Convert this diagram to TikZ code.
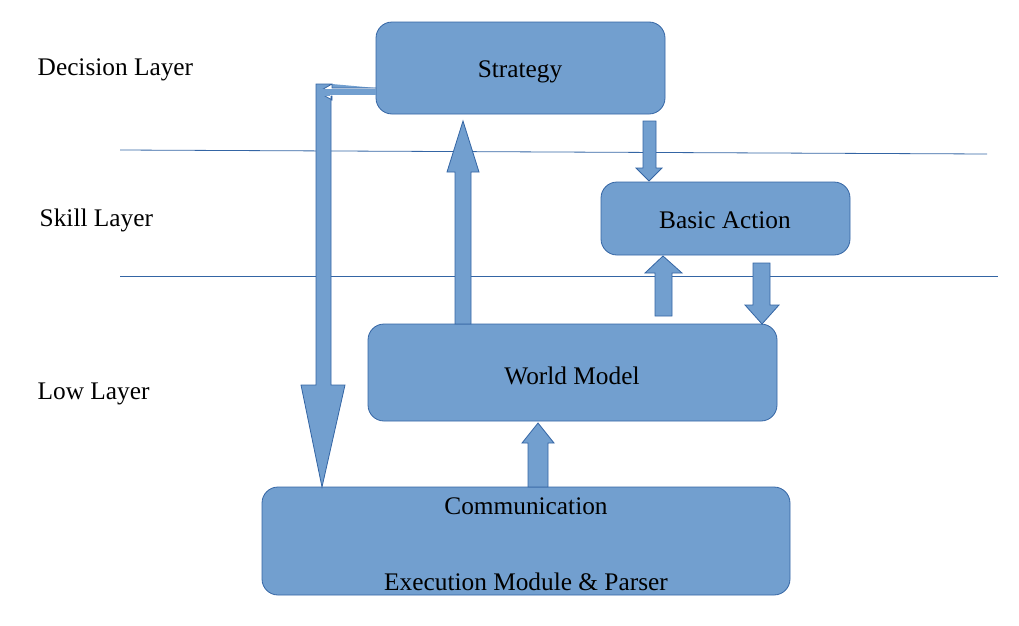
\documentclass[tikz,border=0pt]{standalone}
\usepackage{fontspec}
\setmainfont{Liberation Serif}
\begin{document}
\begin{tikzpicture}[x=0.75pt,y=-0.75pt,
  box/.style={draw=bd,fill=fl,rounded corners=12pt,line width=0.6pt},
  blk/.style={draw=bd,fill=fl,line width=0.6pt},
  lbl/.style={font=\fontsize{19}{22}\selectfont,anchor=west},
  txt/.style={font=\fontsize{19}{22}\selectfont},
  hl/.style={draw=bd,line width=0.6pt}]
\definecolor{fl}{HTML}{729FCF}
\definecolor{bd}{HTML}{3465A4}
\useasboundingbox (0,0) rectangle (1019,625);
\draw[hl] (120,150) -- (987,154);
\draw[hl] (120,276) -- (998,276);
\node[lbl] (dl) at (33,70) {Decision Layer};
\node[lbl] (sl) at (35,220) {Skill Layer};
\node[lbl] (ll) at (33,394) {Low Layer};
\draw[box] (376,22) rectangle (665,114);
\node[txt] (st) at (520,72) {Strategy};
\draw[box] (601,182) rectangle (850,255);
\node[txt] (ba) at (725,220) {Basic Action};
\draw[box] (368,324) rectangle (777,421);
\node[txt] (wm) at (572,376) {World Model};
\draw[box] (262,487) rectangle (790,595);
\node[txt] (cm) at (526,506) {Communication};
\node[txt] (em) at (526,582) {Execution Module \& Parser};
% L arrow from strategy down to communication
\draw[blk] (376,88) -- (332,88) -- (332,84) -- (318,92) -- (332,100) -- (332,96) -- (331,96)
  -- (331,385) -- (345,385) -- (322,487) -- (301,385) -- (316,385) -- (316,84) -- (332,84);
\fill[fl] (317,89) rectangle (330,96);
\fill[fl] (330,89) rectangle (376,95);
% up arrow world model -> strategy
\draw[blk] (455,324) -- (455,172) -- (447,172) -- (463,121) -- (479,172) -- (471,172) -- (471,324) -- cycle;
% strategy -> basic action
\draw[blk] (643,121) -- (656,121) -- (656,168) -- (662,168) -- (649,181) -- (636,168) -- (643,168) -- cycle;
% world model -> basic action
\draw[blk] (655,316) -- (655,273) -- (645,273) -- (663,256) -- (682,273) -- (672,273) -- (672,316) -- cycle;
% basic action -> world model
\draw[blk] (753,263) -- (770,263) -- (770,305) -- (779,305) -- (762,324) -- (745,305) -- (753,305) -- cycle;
% communication -> world model
\draw[blk] (528,487) -- (528,443) -- (522,443) -- (538,423) -- (554,443) -- (548,443) -- (548,487) -- cycle;
\end{tikzpicture}
\end{document}
